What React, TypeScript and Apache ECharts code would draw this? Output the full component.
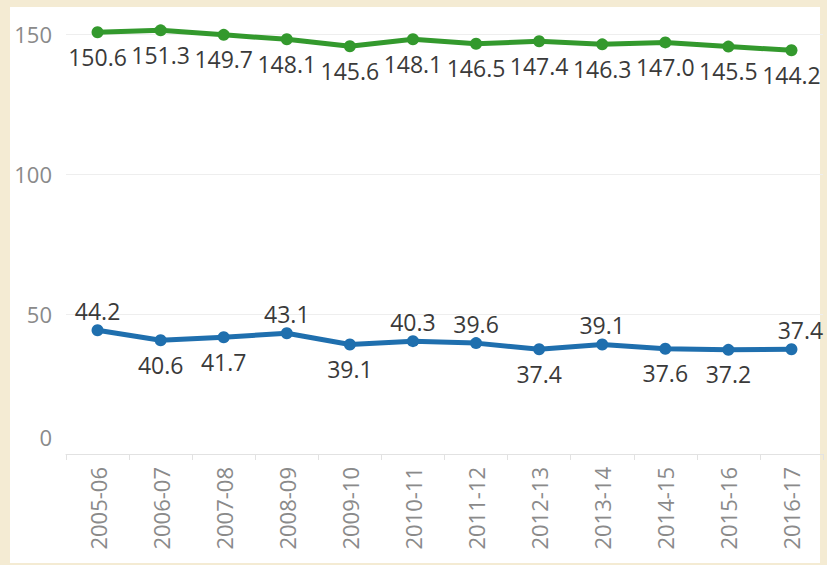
import React, { useEffect, useRef } from "react";
import * as echarts from "echarts";

const categories = [
  "2005-06", "2006-07", "2007-08", "2008-09", "2009-10", "2010-11",
  "2011-12", "2012-13", "2013-14", "2014-15", "2015-16", "2016-17",
];
const greenValues = [150.6, 151.3, 149.7, 148.1, 145.6, 148.1, 146.5, 147.4, 146.3, 147.0, 145.5, 144.2];
const blueValues = [44.2, 40.6, 41.7, 43.1, 39.1, 40.3, 39.6, 37.4, 39.1, 37.6, 37.2, 37.4];
const blueLabelSides = ["top", "bottom", "bottom", "top", "bottom", "top", "top", "bottom", "top", "bottom", "bottom", "top"];
const yTicks = [0, 50, 100, 150];

const FONT = "'Open Sans', 'Noto Sans', sans-serif";

export default function App() {
  const ref = useRef<HTMLDivElement>(null);

  useEffect(() => {
    document.body.style.margin = "0";
    if (!ref.current) return;
    const chart = echarts.init(ref.current, null, { renderer: "svg" });
    const labelBase = {
      show: true,
      fontSize: 23,
      fontFamily: FONT,
      color: "#3a3a3a",
      formatter: (p: any) => Number(p.value).toFixed(1),
    };
    const last = blueValues.length - 1;
    chart.setOption({
      animation: false,
      backgroundColor: "transparent",
      grid: { left: 66, right: 4, top: 34, bottom: 111, containLabel: false },
      xAxis: {
        type: "category",
        data: categories,
        boundaryGap: true,
        offset: 4,
        axisLine: { show: true, lineStyle: { color: "#e2e2e2", width: 1 } },
        axisTick: { show: true, length: 6, lineStyle: { color: "#e2e2e2" } },
        axisLabel: {
          rotate: 90,
          margin: 9,
          fontSize: 22,
          fontFamily: FONT,
          color: "#8a8a8a",
        },
        splitLine: { show: false },
      },
      yAxis: {
        type: "value",
        min: yTicks[0],
        max: yTicks[yTicks.length - 1],
        interval: 50,
        axisLine: { show: false },
        axisTick: { show: false },
        splitLine: { show: true, lineStyle: { color: "#eeeeee", width: 1 } },
        axisLabel: {
          margin: 14,
          fontSize: 22,
          fontFamily: FONT,
          color: "#8a8a8a",
          formatter: (v: number) => (v === 0 ? "{z|0}" : String(v)),
          rich: {
            z: { fontSize: 22, fontFamily: FONT, color: "#8a8a8a", padding: [0, 0, 34, 0] },
          },
        },
      },
      series: [
        {
          type: "line",
          data: greenValues,
          clip: false,
          symbol: "circle",
          symbolSize: 12,
          itemStyle: { color: "#33992d" },
          lineStyle: { color: "#33992d", width: 5 },
          label: { ...labelBase, position: "bottom", distance: 7 },
          z: 3,
        },
        {
          type: "line",
          data: blueValues.map((v, i) => ({
            value: v,
            label: {
              position: blueLabelSides[i],
              distance: blueLabelSides[i] === "top" ? 2 : 7,
              offset: i === last ? [9, 0] : [0, 0],
            },
          })),
          clip: false,
          symbol: "circle",
          symbolSize: 12,
          itemStyle: { color: "#1f6fae" },
          lineStyle: { color: "#1f6fae", width: 5 },
          label: { ...labelBase },
          z: 3,
        },
      ],
    });
    return () => chart.dispose();
  }, []);

  return (
    <div style={{ position: "relative", width: 827, height: 565, background: "#f4ebd3", overflow: "hidden" }}>
      <div style={{ position: "absolute", left: 10, top: 7, width: 810, height: 556, background: "#ffffff" }} />
      <div ref={ref} style={{ position: "absolute", left: 0, top: 0, width: 827, height: 565 }} />
    </div>
  );
}
